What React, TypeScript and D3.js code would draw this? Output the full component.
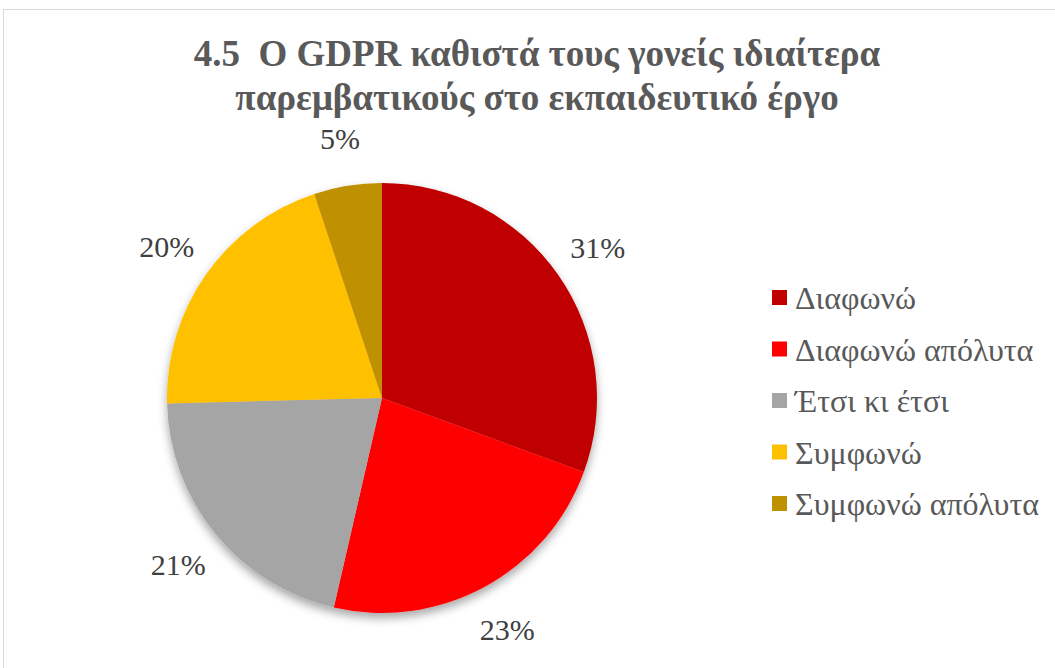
import React, { useEffect, useRef } from 'react';
import * as d3 from 'd3';

const categories = ['Διαφωνώ', 'Διαφωνώ απόλυτα', 'Έτσι κι έτσι', 'Συμφωνώ', 'Συμφωνώ απόλυτα'];
// shares; labels show them rounded
const values = [30.6, 23.0, 21.0, 20.3, 5.1];
const colors = ['#C00000', '#FF0000', '#A5A5A5', '#FFC000', '#BF9000'];
const titleLines = ['4.5  O GDPR καθιστά τους γονείς ιδιαίτερα', 'παρεμβατικούς στο εκπαιδευτικό έργο'];

const W = 1055;
const H = 668;

const App = () => {
  const svgRef = useRef<SVGSVGElement>(null);

  useEffect(() => {
    const svg = d3.select(svgRef.current);
    svg.selectAll('*').remove();

    const font = "'Liberation Serif', 'Times New Roman', serif";

    // chart frame
    svg.append('rect')
      .attr('x', 3.5).attr('y', 9.5)
      .attr('width', W + 20).attr('height', H + 20)
      .attr('fill', '#fff')
      .attr('stroke', '#d9d9d9');

    const title = svg.append('text')
      .attr('text-anchor', 'middle')
      .style('font-family', font)
      .style('white-space', 'pre')
      .attr('font-weight', 'bold')
      .attr('font-size', 37)
      .attr('fill', '#595959');
    titleLines.forEach((line, i) => {
      title.append('tspan')
        .attr('x', 537)
        .attr('y', 66 + i * 44)
        .text(line);
    });

    const defs = svg.append('defs');
    const filter = defs.append('filter').attr('id', 'pieShadow')
      .attr('x', '-20%').attr('y', '-20%').attr('width', '140%').attr('height', '140%');
    filter.append('feDropShadow')
      .attr('dx', 0).attr('dy', 5).attr('stdDeviation', 5)
      .attr('flood-color', '#000').attr('flood-opacity', 0.35);

    const cx = 382, cy = 398, radius = 215;

    const pie = d3.pie<number>().value(d => d).sort(null);
    const arc = d3.arc<d3.PieArcDatum<number>>().innerRadius(0).outerRadius(radius);
    const labelArc = d3.arc<d3.PieArcDatum<number>>().innerRadius(radius + 48).outerRadius(radius + 48);

    const g = svg.append('g').attr('transform', `translate(${cx},${cy})`);

    g.append('g').attr('filter', 'url(#pieShadow)')
      .selectAll('path')
      .data(pie(values))
      .enter().append('path')
      .attr('d', arc)
      .attr('fill', (d, i) => colors[i]);

    g.selectAll('.lbl')
      .data(pie(values))
      .enter().append('text')
      .attr('class', 'lbl')
      .attr('transform', d => `translate(${labelArc.centroid(d)})`)
      .attr('text-anchor', 'middle')
      .attr('dy', '0.35em')
      .style('font-family', font)
      .attr('font-size', 30)
      .attr('fill', '#404040')
      .text(d => `${Math.round(d.data)}%`);

    // legend
    const legend = svg.append('g').attr('transform', 'translate(772,298)');
    const items = legend.selectAll('g')
      .data(categories)
      .enter().append('g')
      .attr('transform', (d, i) => `translate(0,${i * 51.5})`);
    items.append('rect')
      .attr('x', 0).attr('y', -8)
      .attr('width', 15).attr('height', 15)
      .attr('fill', (d, i) => colors[i]);
    items.append('text')
      .attr('x', 23)
      .attr('dy', '0.35em')
      .style('font-family', font)
      .attr('font-size', 32)
      .attr('fill', '#595959')
      .text(d => d);
  }, []);

  return (
    <svg ref={svgRef} width={W} height={H}
      style={{ position: 'absolute', left: 0, top: 0, display: 'block' }} />
  );
};

export default App;
